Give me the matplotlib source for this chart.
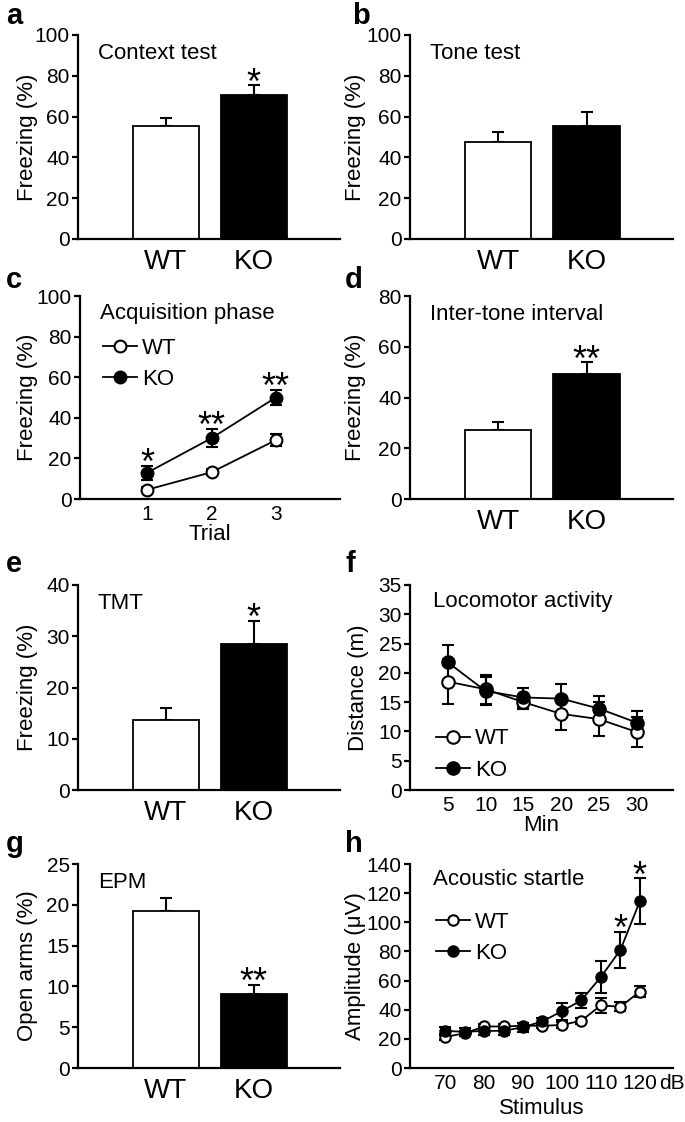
import numpy as np
import matplotlib
matplotlib.use('Agg')
import matplotlib.pyplot as plt
from matplotlib.legend_handler import HandlerLine2D

plt.rcParams['font.family'] = ['Liberation Sans', 'DejaVu Sans']

GROUPS = ['WT', 'KO']

# a - context test
context_mean = [55.4, 70.6]
context_err = [4.0, 4.7]
# b - tone test
tone_mean = [47.4, 55.6]
tone_err = [4.9, 6.7]
# c - acquisition phase
trials = [1, 2, 3]
acq_wt = [4.6, 13.2, 29.0]
acq_wt_err = [1.2, 1.6, 3.0]
acq_ko = [13.0, 30.0, 50.0]
acq_ko_err = [3.5, 4.5, 3.8]
acq_stars = ['*', '**', '**']
# d - inter-tone interval
iti_mean = [27.0, 49.2]
iti_err = [3.5, 4.6]
# e - TMT
tmt_mean = [13.6, 28.5]
tmt_err = [2.4, 4.5]
# f - locomotor activity
minutes = [5, 10, 15, 20, 25, 30]
loco_wt = [18.5, 17.2, 15.0, 13.0, 12.1, 9.9]
loco_wt_err = [3.8, 2.5, 1.2, 2.7, 2.9, 2.6]
loco_ko = [21.8, 16.9, 15.8, 15.6, 13.9, 11.5]
loco_ko_err = [3.0, 2.4, 1.7, 2.5, 2.2, 2.0]
# g - EPM
epm_mean = [19.2, 9.1]
epm_err = [1.6, 1.1]
# h - acoustic startle
stimulus = [70, 75, 80, 85, 90, 95, 100, 105, 110, 115, 120]
startle_wt = [21.3, 23.8, 28.5, 28.5, 29.0, 29.0, 29.5, 32.5, 43.0, 42.0, 52.5]
startle_wt_err = [1.8, 1.8, 2.0, 2.0, 2.0, 1.8, 2.0, 2.0, 5.0, 3.0, 3.5]
startle_ko = [25.5, 24.8, 25.5, 25.5, 28.0, 32.0, 39.0, 46.5, 62.5, 81.0, 114.5]
startle_ko_err = [2.8, 2.8, 2.8, 2.8, 3.0, 2.5, 5.8, 5.3, 11.0, 12.5, 15.7]
startle_stars = {115: '*', 120: '*'}

W, H = 685, 1122
LEFT_X = (78, 340)
RIGHT_X = (410, 673)
ROWS = [(35, 239), (296, 499), (585, 790), (864, 1068)]


def make_axes(fig, col, row, label_x):
    x0, x1 = col
    y0, y1 = ROWS[row]
    ax = fig.add_axes([x0 / W, 1 - y1 / H, (x1 - x0) / W, (y1 - y0) / H])
    for side in ['top', 'right']:
        ax.spines[side].set_visible(False)
    for side in ['left', 'bottom']:
        ax.spines[side].set_linewidth(1.6)
    ax.tick_params(axis='y', direction='out', length=4, width=1.6,
                   labelsize=15, pad=2)
    ax.tick_params(axis='x', length=0, pad=7)
    # y label sits at a fixed spot, as in the figure
    ax.yaxis.set_label_coords((label_x - x0) / (x1 - x0), 0.5)
    return ax


class RightMarker(HandlerLine2D):
    # line with the marker sitting at its right end: -O WT
    def get_xdata(self, legend, xdescent, ydescent, width, height, fontsize):
        xdata = np.array([-xdescent, -xdescent + width])
        return xdata, np.array([-xdescent + width - 4])


def star(ax, x, top, text, size=26):
    ax.annotate(text, xy=(x, top), xytext=(0, -6), textcoords='offset points',
                ha='center', va='baseline', fontsize=size)


def bar_panel(ax, means, errs, ymax, step, title, ylabel, stars=None):
    x = np.arange(len(GROUPS))
    ax.bar(x, means, width=0.75, color=['white', 'black'],
           edgecolor='black', linewidth=1.3, zorder=2)
    ax.errorbar(x, means, yerr=[[0] * len(errs), errs], fmt='none',
                ecolor='black', elinewidth=1.5, capsize=4, capthick=1.5,
                zorder=1)
    ax.set_xlim(-1.0, 1.98)
    ax.set_ylim(0, ymax)
    ax.set_yticks(np.arange(0, ymax + 1, step))
    ax.set_xticks(x)
    ax.set_xticklabels(GROUPS, fontsize=20)
    ax.set_ylabel(ylabel, fontsize=16, va='center')
    ax.text(0.075, 0.91, title, transform=ax.transAxes, fontsize=16,
            va='center', ha='left')
    if stars:
        for i, s in enumerate(stars):
            if s:
                star(ax, x[i], means[i] + errs[i], s)


def line_panel(ax, xs, wt, wt_err, ko, ko_err, msize):
    ax.errorbar(xs, wt, yerr=wt_err, fmt='-o', color='black',
                mfc='white', mec='black', mew=1.5, ms=msize, lw=1.3,
                elinewidth=1.5, capsize=4, capthick=1.5, label='WT')
    ax.errorbar(xs, ko, yerr=ko_err, fmt='-o', color='black',
                mfc='black', mec='black', mew=1.5, ms=msize, lw=1.3,
                elinewidth=1.5, capsize=4, capthick=1.5, label='KO')


def add_legend(ax, x, y):
    handles, labels = ax.get_legend_handles_labels()
    handles = [h[0] for h in handles]
    ax.legend(handles, labels, loc='upper left', bbox_to_anchor=(x, y),
              frameon=False, fontsize=16, handlelength=1.5,
              handletextpad=0.25, labelspacing=0.45, borderpad=0,
              borderaxespad=0, handler_map={h: RightMarker(numpoints=1)
                                            for h in handles})


fig = plt.figure(figsize=(W / 100, H / 100), dpi=100)

# a
ax = make_axes(fig, LEFT_X, 0, 28)
bar_panel(ax, context_mean, context_err, 100, 20, 'Context test',
          'Freezing (%)', stars=[None, '*'])
# b
ax = make_axes(fig, RIGHT_X, 0, 355)
bar_panel(ax, tone_mean, tone_err, 100, 20, 'Tone test', 'Freezing (%)')

# c
ax = make_axes(fig, (80, 340), 1, 28)
line_panel(ax, trials, acq_wt, acq_wt_err, acq_ko, acq_ko_err, 8.5)
for t, v, e, s in zip(trials, acq_ko, acq_ko_err, acq_stars):
    star(ax, t, v + e, s)
ax.set_xlim(-0.05, 4.0)
ax.set_ylim(0, 100)
ax.set_yticks(np.arange(0, 101, 20))
ax.set_xticks(trials)
ax.tick_params(axis='x', labelsize=15, pad=4)
ax.set_xlabel('Trial', fontsize=16, labelpad=0)
ax.set_ylabel('Freezing (%)', fontsize=16, va='center')
ax.text(0.078, 0.916, 'Acquisition phase', transform=ax.transAxes,
        fontsize=16, va='center')
add_legend(ax, 0.09, 0.795)

# d
ax = make_axes(fig, RIGHT_X, 1, 355)
bar_panel(ax, iti_mean, iti_err, 80, 20, 'Inter-tone interval',
          'Freezing (%)', stars=[None, '**'])

# e
ax = make_axes(fig, LEFT_X, 2, 28)
bar_panel(ax, tmt_mean, tmt_err, 40, 10, 'TMT', 'Freezing (%)',
          stars=[None, '*'])

# f
ax = make_axes(fig, RIGHT_X, 2, 358)
line_panel(ax, minutes, loco_wt, loco_wt_err, loco_ko, loco_ko_err, 9)
ax.set_xlim(0, 34.8)
ax.set_ylim(0, 35)
ax.set_yticks(np.arange(0, 36, 5))
ax.set_xticks(minutes)
ax.tick_params(axis='x', labelsize=15, pad=4)
ax.set_xlabel('Min', fontsize=16, labelpad=0)
ax.set_ylabel('Distance (m)', fontsize=16, va='center')
ax.text(0.087, 0.92, 'Locomotor activity', transform=ax.transAxes,
        fontsize=16, va='center')
add_legend(ax, 0.1, 0.30)

# g
ax = make_axes(fig, LEFT_X, 3, 28)
bar_panel(ax, epm_mean, epm_err, 25, 5, 'EPM', 'Open arms (%)',
          stars=[None, '**'])

# h
ax = make_axes(fig, RIGHT_X, 3, 355)
line_panel(ax, stimulus, startle_wt, startle_wt_err, startle_ko,
           startle_ko_err, 7.5)
for s, v, e in zip(stimulus, startle_ko, startle_ko_err):
    if s in startle_stars:
        star(ax, s, v + e, startle_stars[s])
ax.set_xlim(61, 128.5)
ax.set_ylim(0, 140)
ax.set_yticks(np.arange(0, 141, 20))
ax.set_xticks(np.arange(70, 121, 10))
ax.tick_params(axis='x', labelsize=15, pad=4)
ax.set_xlabel('Stimulus', fontsize=16, labelpad=4)
ax.set_ylabel('Amplitude (\u03bcV)', fontsize=16, va='center')
ax.text(0.087, 0.925, 'Acoustic startle', transform=ax.transAxes,
        fontsize=16, va='center')
ax.annotate('dB', xy=(0.995, 0), xycoords='axes fraction', xytext=(0, -4),
            textcoords='offset points', ha='center', va='top', fontsize=15)
add_legend(ax, 0.1, 0.765)

# panel letters
letters = {'a': (6, 2), 'b': (352, 2), 'c': (6, 266), 'd': (345, 266),
           'e': (6, 550), 'f': (345, 550), 'g': (6, 830), 'h': (345, 830)}
for k, (px, py) in letters.items():
    fig.text(px / W, 1 - py / H, k, fontsize=21, fontweight='bold',
             va='top', ha='left')

fig.savefig('out.png', dpi=100)
